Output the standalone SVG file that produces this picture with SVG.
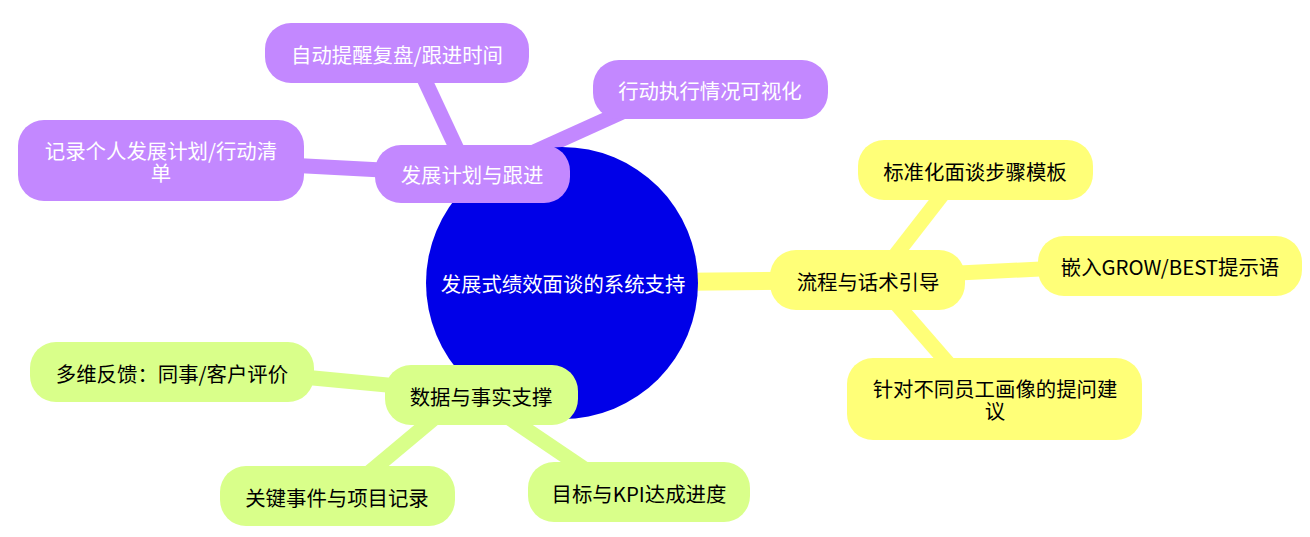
<svg xmlns="http://www.w3.org/2000/svg" width="1310" height="537" viewBox="0 0 1310 537">
<style>
.t{font-family:"Noto Sans CJK SC","Noto Sans",sans-serif;font-size:20.4px;text-anchor:middle;dominant-baseline:central}
.w{fill:#ffffff}.b{fill:#000000}
.p{fill:#C388FF}.y{fill:#FFFF78}.g{fill:#D9FF8A}
.ep{stroke:#C388FF;fill:none}.ey{stroke:#FFFF78;fill:none}.eg{stroke:#D9FF8A;fill:none}
</style>
<rect width="1310" height="537" fill="#ffffff"/>
<g id="connectors">
<line class="ep" x1="562" y1="283" x2="472" y2="174" stroke-width="18"/>
<line class="ey" x1="562" y1="283" x2="868" y2="280" stroke-width="18"/>
<line class="eg" x1="562" y1="283" x2="481" y2="396" stroke-width="18"/>
<line class="ep" x1="462" y1="160" x2="420" y2="70" stroke-width="15"/>
<line class="ep" x1="490" y1="172" x2="660" y2="95" stroke-width="15"/>
<line class="ep" x1="420" y1="172" x2="250" y2="163" stroke-width="15"/>
<line class="ey" x1="880" y1="275" x2="960" y2="172" stroke-width="15"/>
<line class="ey" x1="900" y1="276" x2="1100" y2="266" stroke-width="15"/>
<line class="ey" x1="880" y1="285" x2="980" y2="400" stroke-width="15"/>
<line class="eg" x1="440" y1="390" x2="250" y2="372" stroke-width="15"/>
<line class="eg" x1="450" y1="405" x2="340" y2="497" stroke-width="15"/>
<line class="eg" x1="490" y1="405" x2="620" y2="493" stroke-width="15"/>
</g>
<g id="root">
<ellipse cx="562" cy="283" rx="136" ry="136" fill="#0000E8"/>
<text class="t w" x="563" y="283">发展式绩效面谈的系统支持</text>
</g>
<g id="n-plan">
<rect class="p" x="375" y="145" width="195" height="58" rx="26"/>
<text class="t w" x="472" y="174">发展计划与跟进</text>
</g>
<g id="n-remind">
<rect class="p" x="265" y="23" width="264" height="60" rx="26"/>
<text class="t w" x="397" y="54">自动提醒复盘/跟进时间</text>
</g>
<g id="n-visual">
<rect class="p" x="593" y="60" width="235" height="59" rx="26"/>
<text class="t w" x="710" y="90">行动执行情况可视化</text>
</g>
<g id="n-record">
<rect class="p" x="18" y="120" width="286" height="81" rx="26"/>
<text class="t w" x="161" y="150">记录个人发展计划/行动清<tspan x="161" dy="22">单</tspan></text>
</g>
<g id="n-flow">
<rect class="y" x="770" y="250" width="195" height="60" rx="26"/>
<text class="t b" x="868" y="281">流程与话术引导</text>
</g>
<g id="n-template">
<rect class="y" x="858" y="140" width="235" height="60" rx="26"/>
<text class="t b" x="975" y="171">标准化面谈步骤模板</text>
</g>
<g id="n-grow">
<rect class="y" x="1038" y="236" width="264" height="60" rx="26"/>
<text class="t b" x="1170" y="266">嵌入GROW/BEST提示语</text>
</g>
<g id="n-question">
<rect class="y" x="847" y="358" width="295" height="82" rx="26"/>
<text class="t b" x="995" y="388">针对不同员工画像的提问建<tspan x="995" dy="22">议</tspan></text>
</g>
<g id="n-data">
<rect class="g" x="385" y="365" width="193" height="60" rx="26"/>
<text class="t b" x="481" y="396">数据与事实支撑</text>
</g>
<g id="n-feedback">
<rect class="g" x="30" y="342" width="284" height="60" rx="26"/>
<text class="t b" x="172" y="373">多维反馈：同事/客户评价</text>
</g>
<g id="n-event">
<rect class="g" x="220" y="466" width="235" height="60" rx="26"/>
<text class="t b" x="337" y="497">关键事件与项目记录</text>
</g>
<g id="n-kpi">
<rect class="g" x="528" y="462" width="222" height="60" rx="26"/>
<text class="t b" x="639" y="493">目标与KPI达成进度</text>
</g>
</svg>
